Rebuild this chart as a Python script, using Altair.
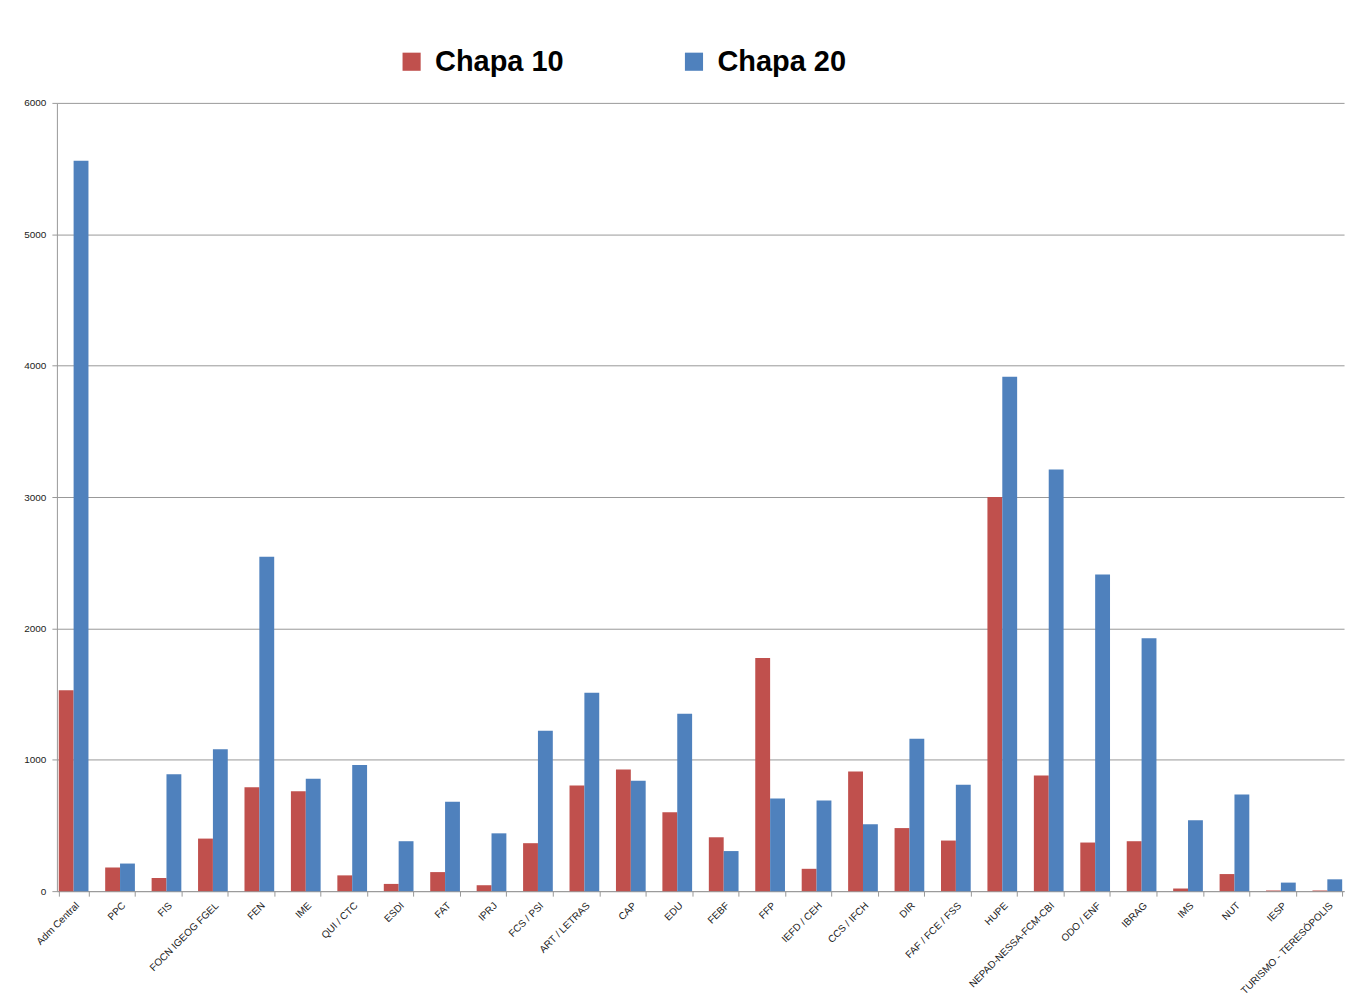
import altair as alt
import pandas as pd

categories = ["Adm Central", "PPC", "FIS", "FOCN  IGEOG FGEL", "FEN", "IME", "QUI / CTC", "ESDI",
              "FAT", "IPRJ", "FCS / PSI", "ART / LETRAS", "CAP", "EDU", "FEBF", "FFP",
              "IEFD / CEH", "CCS / IFCH", "DIR", "FAF / FCE / FSS", "HUPE", "NEPAD-NESSA-FCM-CBI",
              "ODO / ENF", "IBRAG", "IMS", "NUT", "IESP", "TURISMO - TERESÓPOLIS"]
chapa10 = [1530, 180, 100, 400, 790, 760, 120, 55, 145, 45, 365, 805, 925, 600, 410, 1775,
           170, 910, 480, 385, 3000, 880, 370, 380, 20, 130, 5, 5]
chapa20 = [5560, 210, 890, 1080, 2545, 855, 960, 380, 680, 440, 1220, 1510, 840, 1350, 305, 705,
           690, 510, 1160, 810, 3915, 3210, 2410, 1925, 540, 735, 65, 90]

rows = []
for c, a, b in zip(categories, chapa10, chapa20):
    rows.append({"cat": c, "serie": "Chapa 10", "v": a})
    rows.append({"cat": c, "serie": "Chapa 20", "v": b})
df = pd.DataFrame(rows)

chart = alt.Chart(df).mark_bar().encode(
    x=alt.X("cat:N", sort=categories, title=None,
            scale=alt.Scale(paddingInner=0.36, paddingOuter=0.04),
            axis=alt.Axis(labelAngle=-45, labelFontSize=10, labelColor="#222",
                          labelFont="Liberation Sans", tickBand="extent", tickColor="#999",
                          domainColor="#999", labelPadding=4, labelLimit=200)),
    xOffset=alt.XOffset("serie:N", sort=["Chapa 10", "Chapa 20"]),
    y=alt.Y("v:Q", title=None,
            scale=alt.Scale(domain=[0, 6000], nice=False),
            axis=alt.Axis(values=[0, 1000, 2000, 3000, 4000, 5000, 6000], format="d",
                          labelFontSize=10, labelColor="#222", labelFont="Liberation Sans",
                          gridColor="#999", domainColor="#999", tickColor="#999",
                          labelPadding=6)),
    color=alt.Color("serie:N",
                    scale=alt.Scale(domain=["Chapa 10", "Chapa 20"], range=["#C0504D", "#4F81BD"]),
                    legend=alt.Legend(title=None, orient="none", legendX=341, legendY=-56,
                                      direction="horizontal", symbolType="square",
                                      symbolSize=330, symbolOpacity=1, labelFontSize=29,
                                      labelFontWeight="bold", labelFont="Liberation Sans",
                                      labelColor="#000", columnPadding=116, labelOffset=9)),
).properties(
    width=1290, height=790,
    autosize=alt.AutoSizeParams(type="none"),
    padding={"left": 49, "top": 94, "right": 20, "bottom": 105},
).configure_view(stroke=None)

chart.save("out.html", embed_options={"renderer": "svg", "actions": False})
